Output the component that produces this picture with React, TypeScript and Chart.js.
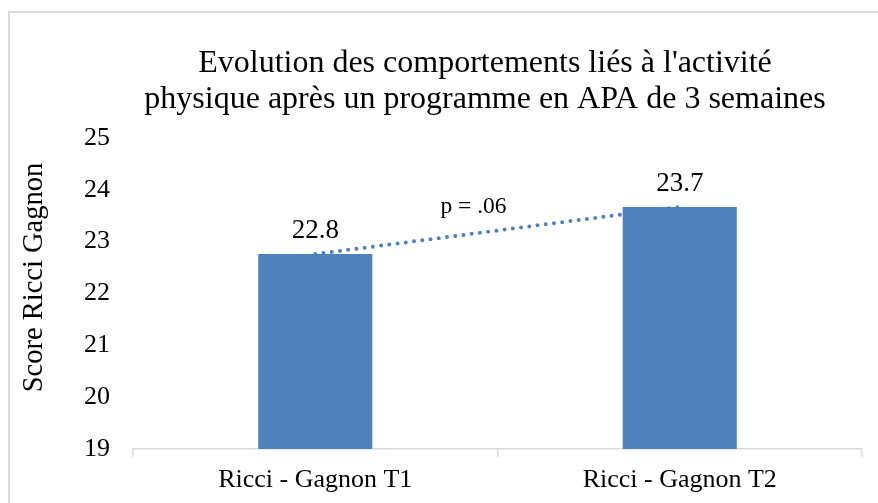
import React, { useEffect, useRef } from "react";
import { Chart, registerables } from "chart.js";

Chart.register(...registerables);

const categories = ["Ricci - Gagnon T1", "Ricci - Gagnon T2"];
const scores = [22.76, 23.67];
const titleLines = [
  "Evolution des comportements liés à l'activité",
  "physique après un programme en APA de 3 semaines",
];
const yAxisTitle = "Score Ricci Gagnon";
const pValueLabel = "p = .06";
const yMin = 19;
const yMax = 25;

const FONT = "'Liberation Serif', 'Times New Roman', serif";
const BLUE = "#4F81BD";
const GRAY = "#D9D9D9";

const overlayPlugin = {
  id: "overlay",
  afterDraw(chart: any) {
    const ctx = chart.ctx;
    ctx.save();
    ctx.fillStyle = "#000";
    ctx.textAlign = "center";
    ctx.textBaseline = "alphabetic";
    // title
    ctx.font = `32px ${FONT}`;
    ctx.fillText(titleLines[0], 475, 59);
    ctx.fillText(titleLines[1], 475, 95);
    // y axis title
    const area = chart.chartArea;
    ctx.save();
    ctx.translate(32, (area.top + area.bottom) / 2 - 16);
    ctx.rotate(-Math.PI / 2);
    ctx.font = `28.5px ${FONT}`;
    ctx.fillText(yAxisTitle, 0, 0);
    ctx.restore();
    // data labels
    const meta = chart.getDatasetMeta(0);
    ctx.font = `27px ${FONT}`;
    meta.data.forEach((el: any, i: number) => {
      ctx.fillText(scores[i].toFixed(1), el.x, el.y - 16);
    });
    // p-value label
    const a = meta.data[0];
    const b = meta.data[1];
    ctx.font = `23.5px ${FONT}`;
    ctx.fillText(pValueLabel, (a.x + b.x) / 2 - 24, (a.y + b.y) / 2 - 18);
    ctx.restore();
  },
};

export default function App() {
  const ref = useRef<HTMLCanvasElement | null>(null);
  useEffect(() => {
    if (!ref.current) return;
    const chart = new Chart(ref.current, {
      data: {
        labels: categories,
        datasets: [
          {
            type: "bar",
            data: scores,
            backgroundColor: BLUE,
            borderWidth: 0,
            barPercentage: 1,
            categoryPercentage: 0.313,
            order: 2,
          },
          {
            type: "line",
            data: scores,
            borderColor: BLUE,
            borderWidth: 4,
            borderDash: [0, 8.3],
            borderCapStyle: "round",
            pointRadius: 0,
            fill: false,
            order: 1,
          },
        ],
      } as any,
      options: {
        animation: false,
        responsive: false,
        maintainAspectRatio: false,
        layout: { padding: { top: 125, right: 24, bottom: 0, left: 0 } },
        plugins: {
          legend: { display: false },
          tooltip: { enabled: false },
          title: { display: false },
        },
        scales: {
          x: {
            offset: true,
            grid: {
              display: true,
              offset: true,
              drawOnChartArea: false,
              drawTicks: true,
              tickLength: 8,
              color: GRAY,
              lineWidth: 1.5,
            },
            border: { display: true, color: GRAY, width: 1.5 },
            ticks: {
              color: "#000",
              font: { family: FONT, size: 26 },
              padding: 8,
            },
            afterFit: (s: any) => {
              s.height = 54;
            },
          },
          y: {
            min: yMin,
            max: yMax,
            ticks: {
              stepSize: 1,
              color: "#000",
              font: { family: FONT, size: 26 },
              padding: 23,
            },
            grid: { display: false, drawTicks: false },
            border: { display: false },
            afterFit: (s: any) => {
              s.width = 123;
            },
          },
        },
      },
      plugins: [overlayPlugin],
    });
    return () => chart.destroy();
  }, []);
  return (
    <div
      style={{
        position: "fixed",
        left: 8,
        top: 11,
        width: 880,
        height: 500,
        border: `2px solid ${GRAY}`,
        background: "#fff",
        overflow: "hidden",
      }}
    >
      <canvas ref={ref} width={876} height={490} style={{ display: "block" }} />
    </div>
  );
}
